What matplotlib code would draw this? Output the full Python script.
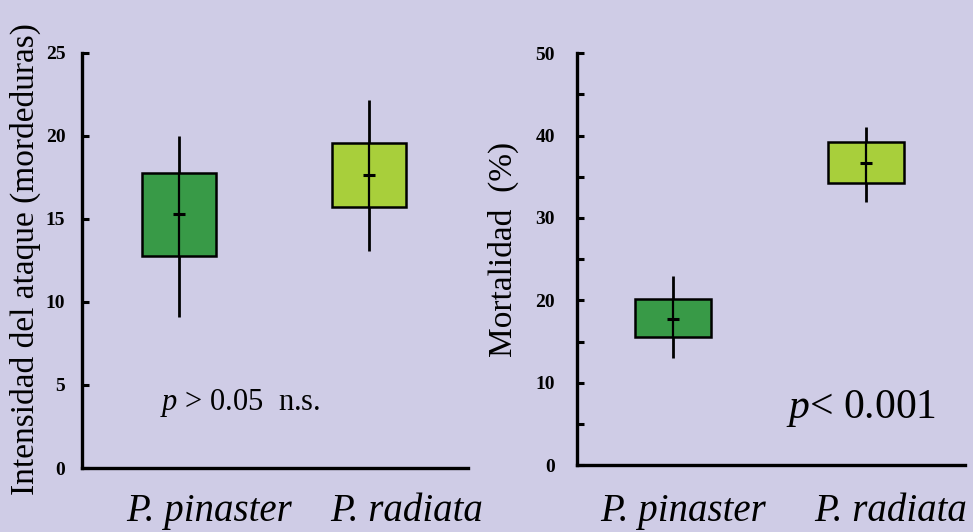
import matplotlib
matplotlib.use("Agg")
import matplotlib.pyplot as plt
import matplotlib.transforms as mtransforms

plt.rcParams['font.family'] = ['Liberation Serif', 'DejaVu Serif']
plt.rcParams['mathtext.fontset'] = 'custom'
plt.rcParams['mathtext.it'] = 'Liberation Serif:italic'
plt.rcParams['mathtext.rm'] = 'Liberation Serif'

# --- data ---
species = ['P. pinaster', 'P. radiata']
box_colors = ['#389A47', '#A8CF3B']

# attack intensity (bites)
bites_low = [12.77, 15.70]
bites_high = [17.79, 19.56]
bites_mean = [15.32, 17.63]
bites_wmin = [9.08, 13.07]
bites_wmax = [20.0, 22.17]

# mortality (%)
mort_low = [15.59, 34.2]
mort_high = [20.13, 39.2]
mort_mean = [17.78, 36.7]
mort_wmin = [13.04, 31.9]
mort_wmax = [22.96, 41.1]

bg = '#CFCCE6'
positions = [1, 2]

fig = plt.figure(figsize=(9.73, 5.32), dpi=100, facecolor=bg)
ax1 = fig.add_axes([0.0843, 0.1203, 0.3967, 0.7801])
ax2 = fig.add_axes([0.5930, 0.1259, 0.3988, 0.7739])


def draw_panel(ax, low, high, mean, wmin, wmax, label_x, label_y, ymax, ticks, minor, pad):
    ax.set_facecolor(bg)
    heights = [h - l for h, l in zip(high, low)]
    ax.vlines(positions, wmin, wmax, color='black', linewidth=2, zorder=1)
    ax.bar(positions, heights, bottom=low, width=0.39, color=box_colors,
           edgecolor='black', linewidth=1.8, zorder=2)
    ax.vlines(positions, low, high, color='black', linewidth=1.6, zorder=3)
    ax.plot(positions, mean, linestyle='none', marker='_', markersize=9,
            markeredgewidth=2.2, color='black', zorder=4)

    ax.set_ylim(0, ymax)
    ax.set_yticks(ticks)
    ax.set_yticklabels([str(t) for t in ticks], fontsize=14, fontweight='bold')
    if minor:
        ax.set_yticks(minor, minor=True)
    ax.tick_params(axis='y', which='both', direction='in', length=5, width=2.2,
                   pad=pad)
    ax.set_xticks([])
    for side in ['top', 'right']:
        ax.spines[side].set_visible(False)
    for side in ['left', 'bottom']:
        ax.spines[side].set_linewidth(2.4)

    trans = mtransforms.blended_transform_factory(ax.transData, ax.transAxes)
    for x, name in zip(label_x, species):
        ax.text(x, label_y, name, transform=trans, ha='center', va='baseline',
                fontsize=28, style='italic')


draw_panel(ax1, bites_low, bites_high, bites_mean, bites_wmin, bites_wmax,
           [1.158, 2.195], -0.128, 25, [0, 5, 10, 15, 20, 25], None, 12)
ax1.set_xlim(0.489, 2.52)

draw_panel(ax2, mort_low, mort_high, mort_mean, mort_wmin, mort_wmax,
           [1.052, 2.13], -0.136, 50, [0, 10, 20, 30, 40, 50],
           [5, 15, 25, 35, 45], 16)
ax2.set_xlim(0.503, 2.513)

ax1.text(0.90, 3.5, r'$p$ > 0.05  n.s.', fontsize=22, ha='left', va='baseline')
ax2.text(1.585, 5.7, r'$p$< 0.001', fontsize=30, ha='left', va='baseline')

fig.text(0.0257, 0.513, 'Intensidad del ataque (mordeduras)', rotation=90,
         ha='center', va='center', fontsize=24)
fig.text(0.517, 0.532, 'Mortalidad  (%)', rotation=90,
         ha='center', va='center', fontsize=24)

fig.savefig('out.png', dpi=100, facecolor=bg)
